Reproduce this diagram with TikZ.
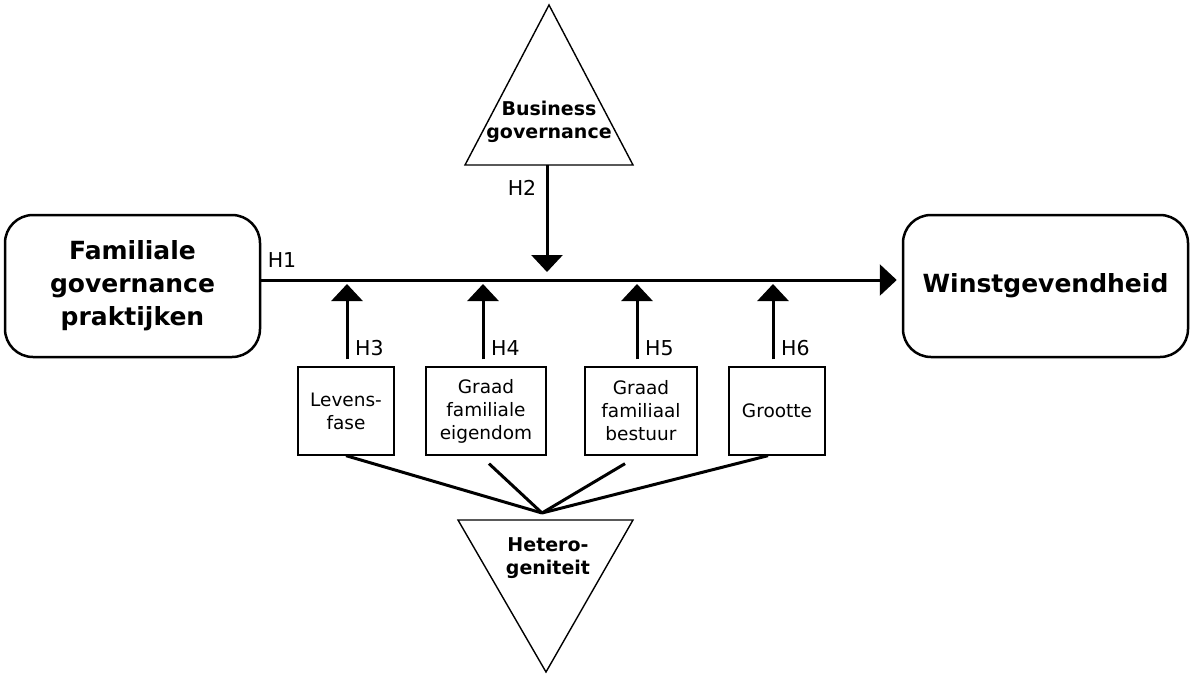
\documentclass[tikz,border=0pt]{standalone}
\usepackage{fontspec}
\setmainfont{DejaVu Sans}
\usetikzlibrary{arrows.meta,calc}

\begin{document}
\begin{tikzpicture}[x=1pt, y=-1pt,
    bigbox/.style={draw, line width=2.5pt, rounded corners=28pt, align=center,
        inner sep=0pt, font=\fontsize{25}{33}\selectfont\bfseries},
    modbox/.style={draw, line width=1.3pt, align=center, minimum height=88pt,
        inner sep=0pt, fill=white, font=\fontsize{18.5}{23}\selectfont},
    hyp/.style={line width=3pt, -{Triangle[width=31pt, length=17pt]}},
    link/.style={line width=3pt},
    tag/.style={inner sep=0pt, font=\fontsize{20.5}{23}\selectfont},
    tri/.style={draw, line width=1.4pt, fill=white},
    trilabel/.style={align=center, inner sep=0pt, font=\fontsize{19}{23}\selectfont\bfseries}]
    \useasboundingbox (0,0) rectangle (1192,673);

    % Independent and dependent variable
    \node[bigbox, minimum width=255pt, minimum height=142pt] (fam) at (132.5,286)
        {Familiale\\governance\\praktijken};
    \node[bigbox, minimum width=285pt, minimum height=142pt] (win) at (1045.5,286)
        {Winstgevendheid};

    % Main effect H1
    \draw[hyp] ([yshift=6pt]fam.east) -- ([xshift=-5pt,yshift=6pt]win.west);
    \node[tag] (h1) at (282,260) {H1};

    % Business governance (H2)
    \draw[tri] (549,5) -- (633,165) -- (465,165) -- cycle;
    \node[trilabel] (biz) at (549,122) {Business\\governance};
    \coordinate (bizbase) at (547,165);
    \coordinate (tip2) at (547,272);
    \draw[hyp] (bizbase) -- (tip2);
    \node[tag] (h2) at (522,188) {H2};

    % Moderators H3--H6
    \node[modbox, minimum width=96pt] (lev) at (346,411) {Levens-\\fase};
    \node[modbox, minimum width=120pt] (eig) at (486,411) {Graad\\familiale\\eigendom};
    \node[modbox, minimum width=112pt] (bes) at (641,411) {Graad\\familiaal\\bestuur};
    \node[modbox, minimum width=96pt] (gro) at (777,411) {Grootte};

    \foreach \b/\x/\h in {lev/347/3, eig/483/4, bes/637/5, gro/773/6} {
        \coordinate (tip\h) at (\x,284);
        \draw[hyp] ($(tip\h |- \b.north)+(0,-7)$) -- (tip\h);
        \node[tag, anchor=west] (h\h) at ({\x+8},348) {H\h};
    }

    % Heterogeniteit
    \draw[tri] (458,520) -- (633,520) -- (546,672) -- cycle;
    \node[trilabel] (het) at (548,558) {Hetero-\\geniteit};
    \coordinate (conv) at (542,513);
    \draw[link] (lev.south) -- (conv);
    \draw[link] ([xshift=3pt,yshift=-8pt]eig.south) -- (conv);
    \draw[link] ([xshift=-16pt,yshift=-8pt]bes.south) -- (conv);
    \draw[link] ([xshift=-9pt]gro.south) -- (conv);
\end{tikzpicture}
\end{document}
